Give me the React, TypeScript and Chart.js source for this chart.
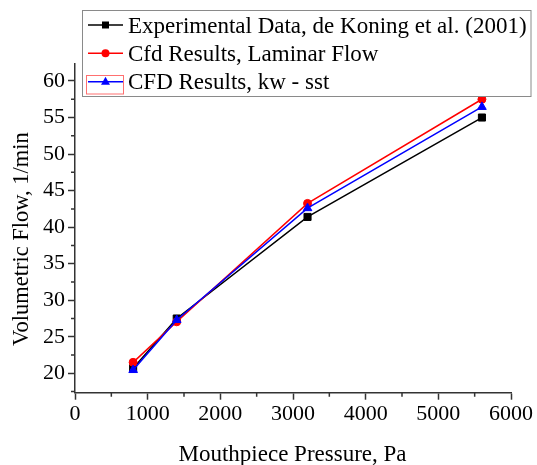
import React, { useEffect, useRef } from "react";
import { Chart, registerables } from "chart.js";

Chart.register(...registerables);

// ---- data ----
const pressure = [800, 1400, 3200, 5600];
const experimental = [20.7, 27.5, 41.4, 55.0];
const laminar = [21.5, 27.05, 43.25, 57.5];
const kwSst = [20.45, 27.3, 42.6, 56.45];

const seriesLabels = [
  "Experimental Data, de Koning et al. (2001)",
  "Cfd Results, Laminar Flow",
  "CFD Results, kw - sst",
];
const seriesColors = ["#000000", "#ff0000", "#0000ff"];

const xMajorTicks = [0, 1000, 2000, 3000, 4000, 5000, 6000];
const xMinorTicks = [500, 1500, 2500, 3500, 4500, 5500];
const yMajorTicks = [20, 25, 30, 35, 40, 45, 50, 55, 60];
const yMinorTicks = [17.5, 22.5, 27.5, 32.5, 37.5, 42.5, 47.5, 52.5, 57.5];

const xTitle = "Mouthpiece Pressure, Pa";
const yTitle = "Volumetric Flow, 1/min";

const X_MIN = 0;
const X_MAX = 6000;
const Y_MIN = 17.35;
const Y_MAX = 62.42;

const FONT = "Liberation Serif";
const AXIS_COLOR = "#333333";

Chart.defaults.font.family = FONT;

function toPoints(xs: number[], ys: number[]) {
  return xs.map((x, i) => ({ x, y: ys[i] }));
}

const decorPlugin = {
  id: "decor",
  afterDraw(chart: any) {
    const ctx: CanvasRenderingContext2D = chart.ctx;
    const xs = chart.scales.x;
    const ys = chart.scales.y;
    ctx.save();

    // minor ticks
    ctx.strokeStyle = AXIS_COLOR;
    ctx.lineWidth = 1.5;
    ctx.beginPath();
    for (const v of xMinorTicks) {
      const px = xs.getPixelForValue(v);
      ctx.moveTo(px, xs.top);
      ctx.lineTo(px, xs.top + 4);
    }
    for (const v of yMinorTicks) {
      if (v < Y_MIN || v > Y_MAX) continue;
      const py = ys.getPixelForValue(v);
      ctx.moveTo(ys.right, py);
      ctx.lineTo(ys.right - 4, py);
    }
    ctx.stroke();

    // axis titles
    ctx.fillStyle = "#000";
    ctx.textAlign = "center";
    ctx.textBaseline = "alphabetic";
    ctx.font = `23px "${FONT}"`;
    ctx.fillText(xTitle, 292.5, 461);
    ctx.save();
    ctx.translate(28, 239);
    ctx.rotate(-Math.PI / 2);
    ctx.font = `22.5px "${FONT}"`;
    ctx.fillText(yTitle, 0, 0);
    ctx.restore();

    // legend box
    const bx = 82.5, by = 10.5, bw = 448.5, bh = 86;
    ctx.fillStyle = "#ffffff";
    ctx.fillRect(bx, by, bw, bh);
    ctx.strokeStyle = "#8a8a8a";
    ctx.lineWidth = 1;
    ctx.strokeRect(bx, by, bw, bh);

    const rowsY = [25, 53.3, 81.7];
    const baseY = [32.7, 61, 89.3];
    const sx0 = 88, sx1 = 123, mx = 105.5;
    for (let i = 0; i < 3; i++) {
      const cy = rowsY[i];
      const col = seriesColors[i];
      if (i === 2) {
        ctx.strokeStyle = "#ff7070";
        ctx.lineWidth = 1;
        ctx.strokeRect(86.5, 75.5, 37, 18.5);
      }
      ctx.strokeStyle = col;
      ctx.lineWidth = 1.5;
      ctx.beginPath();
      ctx.moveTo(sx0, cy);
      ctx.lineTo(sx1, cy);
      ctx.stroke();
      ctx.fillStyle = col;
      ctx.beginPath();
      if (i === 0) {
        ctx.rect(mx - 3.5, cy - 3.5, 7, 7);
      } else if (i === 1) {
        ctx.arc(mx, cy, 4, 0, Math.PI * 2);
      } else {
        ctx.moveTo(mx, cy - 5);
        ctx.lineTo(mx + 4.5, cy + 3);
        ctx.lineTo(mx - 4.5, cy + 3);
        ctx.closePath();
      }
      ctx.fill();

      ctx.fillStyle = "#000";
      ctx.textAlign = "left";
      ctx.font = `23px "${FONT}"`;
      ctx.fillText(seriesLabels[i], 128, baseY[i]);
    }
    ctx.restore();
  },
};

export default function App() {
  const canvasRef = useRef<HTMLCanvasElement | null>(null);

  useEffect(() => {
    if (!canvasRef.current) return;
    const chart = new Chart(canvasRef.current, {
      type: "line",
      data: {
        datasets: [
          {
            label: seriesLabels[0],
            data: toPoints(pressure, experimental),
            borderColor: seriesColors[0],
            backgroundColor: seriesColors[0],
            borderWidth: 1.5,
            pointStyle: "rect",
            pointRadius: 5,
            pointBorderWidth: 1,
            order: 3,
          },
          {
            label: seriesLabels[1],
            data: toPoints(pressure, laminar),
            borderColor: seriesColors[1],
            backgroundColor: seriesColors[1],
            borderWidth: 1.5,
            pointStyle: "circle",
            pointRadius: 4,
            pointBorderWidth: 1,
            order: 2,
          },
          {
            label: seriesLabels[2],
            data: toPoints(pressure, kwSst),
            borderColor: seriesColors[2],
            backgroundColor: seriesColors[2],
            borderWidth: 1.5,
            pointStyle: "triangle",
            pointRadius: 5,
            pointBorderWidth: 1,
            order: 1,
          },
        ],
      },
      options: {
        animation: false,
        responsive: false,
        devicePixelRatio: 1,
        layout: { padding: { top: 63.3, right: 26, bottom: 0, left: 0 } },
        plugins: {
          legend: { display: false },
          tooltip: { enabled: false },
        },
        scales: {
          x: {
            type: "linear",
            min: X_MIN,
            max: X_MAX,
            afterBuildTicks: (scale: any) => {
              scale.ticks = xMajorTicks.map((v) => ({ value: v }));
            },
            afterFit: (scale: any) => {
              scale.height = 72.3;
            },
            grid: {
              display: true,
              drawOnChartArea: false,
              drawTicks: true,
              tickLength: 7,
              tickWidth: 1.5,
              tickColor: AXIS_COLOR,
            },
            border: { display: true, color: AXIS_COLOR, width: 1.5 },
            ticks: {
              color: "#000",
              padding: 1,
              maxRotation: 0,
              autoSkip: false,
              font: { family: FONT, size: 22 },
              callback: (v: any) => String(v),
            },
          },
          y: {
            type: "linear",
            min: Y_MIN,
            max: Y_MAX,
            afterBuildTicks: (scale: any) => {
              scale.ticks = yMajorTicks.map((v) => ({ value: v }));
            },
            afterFit: (scale: any) => {
              scale.width = 75;
            },
            grid: {
              display: true,
              drawOnChartArea: false,
              drawTicks: true,
              tickLength: 7,
              tickWidth: 1.5,
              tickColor: AXIS_COLOR,
            },
            border: { display: true, color: AXIS_COLOR, width: 1.5 },
            ticks: {
              color: "#000",
              padding: 3,
              autoSkip: false,
              font: { family: FONT, size: 22 },
              callback: (v: any) => String(v),
            },
          },
        },
      },
      plugins: [decorPlugin],
    } as any);
    return () => chart.destroy();
  }, []);

  return (
    <div style={{ position: "fixed", left: 0, top: 0, width: 537, height: 465, background: "#fff" }}>
      <canvas ref={canvasRef} width={537} height={465} />
    </div>
  );
}
